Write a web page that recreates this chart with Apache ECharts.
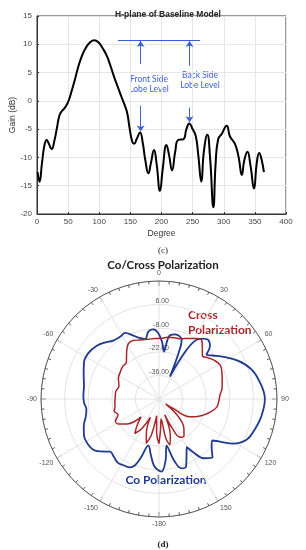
<!DOCTYPE html>
<html><head><meta charset="utf-8">
<script src="https://cdn.jsdelivr.net/npm/echarts@6/dist/echarts.min.js"></script>
<style>html,body{margin:0;padding:0;background:#fff}#c{width:306px;height:550px}</style>
</head><body><div id="c"></div>
<script>
// ---- H-plane (c) ----
const hDeg  = [1,4,8,12,15.5,19,23.5,28,32,36,40,45,50,55,60,66,72,78,85,92,99,106,112,118,124,130,136,141,145,149,153,156,160,165.5,170,174,179,183,188,192,197.6,202,208,212,217,222,227,235,240,244.7,250,255,259,264,268,273.6,278,283.3,287,291,297,304.7,310,318,324,329,333,338,343,348.6,353,357,361,364.5];
const hGain = [-12.6,-14.3,-11,-7.8,-6.9,-7.6,-8.5,-7.0,-4.8,-2.6,-1.8,-1.2,-0.2,1.5,3.4,5.9,7.9,9.3,10.3,10.7,10.3,9.2,8.0,6.2,4.2,2.4,0.6,-0.8,-2.2,-5,-7.2,-7.6,-6.8,-5.6,-7.5,-10.5,-12.8,-11,-8.7,-11,-15.9,-12,-7.8,-9.5,-12.3,-9,-6.9,-6.8,-5,-4.0,-5,-6.2,-9.5,-14.3,-9,-6.0,-10,-18.8,-11,-6.8,-5.8,-4.4,-6.3,-7.6,-10,-13.1,-10.5,-9.0,-11.5,-15.5,-11,-9.2,-10.5,-12.6];
const xTicks = [0,50,100,150,200,250,300,350,400];
const yTicks = [-20,-15,-10,-5,0,5,10,15];
// annotation (side lobe levels)
const sllLevel = 10.7, sllFrom = 130, sllTo = 262;
const frontDeg = 166.5, backDeg = 245;
const frontUp = [6.5, 10.6], backUp = [6.2, 10.6];
const frontDown = [-0.9, -5.4], backDown = [-1.2, -3.8];

// ---- Co/Cross polarization (d) ----
const coAngle = [-180,-176,-172,-167,-163,-160,-157,-152,-147,-142,-137,-132,-128,-122,-116,-110,-103,-98,-93,-88,-80,-72,-64,-57,-50,-44,-38,-32,-27,-22,-17,-13,-9,-5,-1,3,6,8,10,14,18,21,23,26,29,32,36,40,44,47,51,56,64,72,80,90,100,108,115,121,125,128,132,137.5,143,147,150,153,158,162,166,170.7,174,178,180];
const coGain  = [-7.5,-10,-16,-21.6,-14,-8,-5.9,-5.5,-5,-6.5,-7.3,-3.5,-0.8,0,-0.5,-2.5,-5.5,-6.5,-5.5,-5.1,-4.8,-3,-0.5,0,-1.3,-3.5,-6,-6.5,-6,-9.5,-12.3,-13.5,-9.5,-8.5,-10.5,-16,-21.7,-15,-11.5,-10.5,-10.8,-12.5,-20,-35.2,-18,-9,-5.8,-4.4,-6.5,-11.5,-9,-5,2,7.5,10.5,12.8,11.5,9.5,7.3,1.4,-6,-10,-8,-3,-6,-12,-17,-14,-7,-6.7,-12,-22,-13,-6.9,-7.5];
const crossAngle = [-180,-176,-172,-168,-164,-160,-155,-150,-145,-140,-135,-128,-122,-117,-111,-105,-100,-95,-88,-80,-72,-63,-55,-48,-42,-37,-33,-29,-24,-18,-10,-4,2,8,14,20,26,32,36,40,45,50,55,61,67,73,80,86,92,98,104,110,116,120,124,127,132,140,146,151,156,160,163,166.5,170,174,177,180];
const crossGain  = [-23.5,-30,-40,-28,-22.7,-28,-38,-30,-25,-30,-35,-26,-22,-21,-24,-22.5,-23.5,-23.7,-24,-24,-25,-23,-22,-21,-21,-18,-15,-12.5,-12,-13.2,-14,-14,-14,-13,-12.5,-12,-10,-7.7,-6.9,-10,-13.6,-12,-10,-8.5,-9.5,-10.8,-12,-13.7,-14.5,-15.4,-18.5,-22,-26,-29,-40,-45,-35,-27,-23.5,-24,-32,-40,-27,-22,-26,-38,-32,-23.5];
const rMin = -50, rMax = 20, rStep = 14;

const toPolar = (ang, val) => ang.map((a, i) => [val[i], a < 0 ? a + 360 : a]);

const chart = echarts.init(document.getElementById('c'), null, {renderer: 'canvas'});
const annBlue = '#3b5fd6';
const labelFont = 'Liberation Sans';
chart.setOption({
  animation: false,
  textStyle: {fontFamily: labelFont},
  title: [
    {text: 'H-plane of Baseline Model', left: 163, top: 5, textAlign: 'center',
     textStyle: {fontSize: 8.5, fontWeight: 'bold', color: '#222', fontFamily: labelFont}},
    {text: '(c)', left: 158, top: 241, textAlign: 'center',
     textStyle: {fontSize: 9, fontWeight: 'normal', color: '#222', fontFamily: 'Liberation Serif'}},
    {text: 'Co/Cross Polarization', left: 158, top: 254, textAlign: 'center',
     textStyle: {fontSize: 11.5, fontWeight: 'bold', color: '#222', fontFamily: 'Lato'}},
    {text: '(d)', left: 158, top: 535, textAlign: 'center',
     textStyle: {fontSize: 9, fontWeight: 'bold', color: '#222', fontFamily: 'Liberation Serif'}}
  ],
  grid: {left: 37, right: 20, top: 16, height: 198, show: true, borderColor: '#333', borderWidth: 1,
         containLabel: false, outerBoundsMode: 'none'},
  xAxis: {type: 'value', min: xTicks[0], max: xTicks[xTicks.length-1], interval: 50,
    name: 'Degree', nameLocation: 'middle', nameGap: 15, nameMoveOverlap: false,
    nameTextStyle: {fontSize: 8.5, color: '#333'},
    axisLine: {show: true, onZero: false, lineStyle: {color: '#333'}},
    axisTick: {inside: true, length: 2, lineStyle: {color: '#333'}},
    axisLabel: {fontSize: 8, color: '#444', margin: 4},
    splitLine: {show: true, lineStyle: {color: '#e6e6e6'}}},
  yAxis: {type: 'value', min: yTicks[0], max: yTicks[yTicks.length-1], interval: 5,
    name: 'Gain (dB)', nameLocation: 'middle', nameGap: 20, nameMoveOverlap: false,
    nameTextStyle: {fontSize: 8.5, color: '#333'},
    axisLine: {show: true, onZero: false, lineStyle: {color: '#333'}},
    axisTick: {inside: true, length: 2, lineStyle: {color: '#333'}},
    axisLabel: {fontSize: 8, color: '#444', margin: 5},
    splitLine: {show: true, lineStyle: {color: '#e6e6e6'}}},
  polar: {center: [159, 399], radius: 118},
  angleAxis: {type: 'value', min: 0, max: 360, interval: 30, startAngle: 90, clockwise: true,
    axisLine: {show: true, lineStyle: {color: '#555', width: 1}},
    axisTick: {show: true, inside: true, length: 5, lineStyle: {color: '#555'}},
    minorTick: {show: true, splitNumber: 6, length: 3, lineStyle: {color: '#555'}},
    splitLine: {show: true, lineStyle: {color: '#e2e2e2'}},
    axisLabel: {fontSize: 7, color: '#555', margin: 4,
      formatter: v => v === 360 ? '' : String(v >= 180 ? v - 360 : v)}},
  radiusAxis: {type: 'value', min: rMin, max: rMax, interval: rStep,
    axisLine: {show: false}, axisTick: {show: false},
    splitLine: {show: true, lineStyle: {color: '#e2e2e2'}},
    axisLabel: {fontSize: 7, color: '#555', margin: -10, verticalAlign: 'bottom',
      formatter: v => (v === rMin || v === rMax) ? '' : v.toFixed(2)}},
  graphic: [
    {type: 'text', x: 149, y: 74, style: {text: 'Front Side\nLobe Level', fill: annBlue, fontSize: 8.5, fontFamily: 'Lato', textAlign: 'center', lineHeight: 10.5}},
    {type: 'text', x: 200, y: 70, style: {text: 'Back Side\nLobe Level', fill: annBlue, fontSize: 8.5, fontFamily: 'Lato', textAlign: 'center', lineHeight: 10.5}},
    {type: 'text', x: 188, y: 308, style: {text: 'Cross\nPolarization', fill: '#a8262b', fontSize: 12, fontWeight: 'bold', fontFamily: 'Lato', lineHeight: 15}},
    {type: 'text', x: 166, y: 474, style: {text: 'Co Polarization', fill: '#1f3a8f', fontSize: 12, fontWeight: 'bold', fontFamily: 'Lato', textAlign: 'center'}}
  ],
  series: [
    {type: 'line', xAxisIndex: 0, yAxisIndex: 0, smooth: 0.5, symbol: 'none',
     lineStyle: {color: '#000', width: 2},
     data: hDeg.map((d, i) => [d, hGain[i]]),
     markLine: {silent: true, symbol: ['none', 'arrow'], symbolSize: 6,
       label: {show: false}, lineStyle: {color: annBlue, width: 1, type: 'solid'},
       data: [
         [{coord: [sllFrom, sllLevel], symbol: 'none'}, {coord: [sllTo, sllLevel], symbol: 'none'}],
         [{coord: [frontDeg, frontUp[0]]}, {coord: [frontDeg, frontUp[1]]}],
         [{coord: [backDeg, backUp[0]]}, {coord: [backDeg, backUp[1]]}],
         [{coord: [frontDeg, frontDown[0]]}, {coord: [frontDeg, frontDown[1]]}],
         [{coord: [backDeg, backDown[0]]}, {coord: [backDeg, backDown[1]]}]
       ]}},
    {type: 'line', coordinateSystem: 'polar', smooth: 0.4, symbol: 'none',
     lineStyle: {color: '#1f3a8f', width: 1.8}, data: toPolar(coAngle, coGain)},
    {type: 'line', coordinateSystem: 'polar', smooth: 0.4, symbol: 'none',
     lineStyle: {color: '#a8262b', width: 1.5}, data: toPolar(crossAngle, crossGain)}
  ]
});
</script></body></html>
